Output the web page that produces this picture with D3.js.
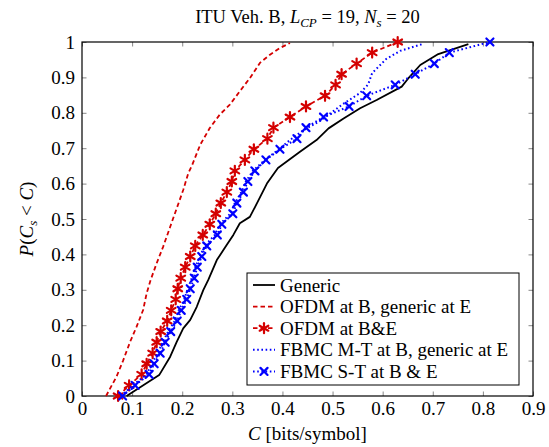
<!DOCTYPE html>
<html>
<head>
<meta charset="utf-8">
<script src="https://cdn.jsdelivr.net/npm/d3@7"></script>
<style>
  body { margin: 0; background: #fff; }
  svg { display: block; font-family: "Liberation Serif", "DejaVu Serif", serif; }
</style>
</head>
<body>
<svg id="chart"></svg>
<script>
// ticks
var xTicks = [0, 0.1, 0.2, 0.3, 0.4, 0.5, 0.6, 0.7, 0.8, 0.9];
var yTicks = [0, 0.1, 0.2, 0.3, 0.4, 0.5, 0.6, 0.7, 0.8, 0.9, 1];

// Generic
var genericC = [0.089, 0.154, 0.176, 0.189, 0.202, 0.216, 0.229, 0.242, 0.252, 0.269, 0.289, 0.302, 0.315, 0.335,
                0.349, 0.369, 0.391, 0.435, 0.468, 0.492, 0.522, 0.555, 0.588, 0.638, 0.651, 0.675, 0.711, 0.771];
var genericP = [0, 0.059, 0.111, 0.153, 0.191, 0.215, 0.252, 0.299, 0.328, 0.384, 0.427, 0.455, 0.488, 0.506,
                0.544, 0.600, 0.644, 0.690, 0.723, 0.756, 0.784, 0.813, 0.836, 0.874, 0.897, 0.935, 0.966, 0.994];

// OFDM at B, generic at E
var ofdmBC = [0.048, 0.069, 0.082, 0.096, 0.109, 0.122, 0.129, 0.137, 0.149, 0.162, 0.176, 0.189, 0.202,
              0.212, 0.220, 0.236, 0.255, 0.275, 0.295, 0.315, 0.335, 0.355, 0.375, 0.395, 0.415];
var ofdmBP = [0, 0.055, 0.100, 0.153, 0.196, 0.243, 0.290, 0.328, 0.375, 0.422, 0.478, 0.530, 0.582,
              0.629, 0.653, 0.710, 0.757, 0.795, 0.823, 0.861, 0.898, 0.941, 0.964, 0.983, 0.997];

// marked curves (OFDM at B&E, FBMC S-T at B & E) share the same P levels
var markedP = [0, 0.030, 0.061, 0.091, 0.121, 0.152, 0.182, 0.212, 0.242, 0.273, 0.303, 0.333, 0.364, 0.394,
               0.424, 0.455, 0.485, 0.515, 0.545, 0.576, 0.606, 0.636, 0.667, 0.697, 0.727, 0.758, 0.788,
               0.818, 0.848, 0.879, 0.909, 0.939, 0.970, 1];
var ofdmBEC = [0.072, 0.094, 0.119, 0.129, 0.141, 0.149, 0.157, 0.170, 0.178, 0.187, 0.191, 0.197, 0.206, 0.216,
               0.226, 0.241, 0.255, 0.267, 0.277, 0.289, 0.299, 0.305, 0.325, 0.343, 0.370, 0.382, 0.415,
               0.447, 0.485, 0.506, 0.518, 0.548, 0.579, 0.630];
var fbmcSTC = [0.081, 0.106, 0.134, 0.144, 0.156, 0.166, 0.177, 0.190, 0.198, 0.209, 0.216, 0.224, 0.230, 0.239,
               0.249, 0.270, 0.279, 0.301, 0.309, 0.322, 0.331, 0.345, 0.367, 0.395, 0.429, 0.447, 0.482,
               0.533, 0.568, 0.625, 0.665, 0.703, 0.733, 0.814];

// FBMC M-T at B, generic at E
var fbmcMTC = [0.077, 0.101, 0.129, 0.139, 0.151, 0.161, 0.172, 0.185, 0.193, 0.204, 0.211, 0.219, 0.226, 0.235,
               0.245, 0.265, 0.275, 0.296, 0.305, 0.318, 0.327, 0.341, 0.365, 0.393, 0.415, 0.441, 0.475,
               0.521, 0.555, 0.571, 0.579, 0.607, 0.635, 0.679];
var fbmcMTP = [0, 0.030, 0.061, 0.091, 0.121, 0.152, 0.182, 0.212, 0.242, 0.273, 0.303, 0.333, 0.364, 0.394,
               0.424, 0.455, 0.485, 0.515, 0.545, 0.576, 0.606, 0.636, 0.667, 0.697, 0.723, 0.750, 0.777,
               0.825, 0.856, 0.880, 0.912, 0.952, 0.975, 0.994];

var legendLabels = ["Generic", "OFDM at B, generic at E", "OFDM at B&E",
                    "FBMC M-T at B, generic at E", "FBMC S-T at B & E"];

var red = "#d40000", blue = "#0000ff";

function zip(c, p) {
  return c.map(function(v, i) { return { c: v, p: p[i] }; });
}

var series = [
  { data: zip(genericC, genericP), color: "#000", dash: null, mark: null },
  { data: zip(ofdmBC, ofdmBP), color: red, dash: "4.5,3", mark: null },
  { data: zip(ofdmBEC, markedP), color: red, dash: "4.5,3", mark: "asterisk" },
  { data: zip(fbmcMTC, fbmcMTP), color: blue, dash: "1.6,2.6", mark: null },
  { data: zip(fbmcSTC, markedP), color: blue, dash: "1.6,2.6", mark: "cross" }
];

var svgWidth = 549, svgHeight = 447;
var margin = { top: 42, right: 16, bottom: 51, left: 82 };
var width = svgWidth - margin.left - margin.right;
var height = svgHeight - margin.top - margin.bottom;

var svg = d3.select("#chart").attr("width", svgWidth).attr("height", svgHeight);
var g = svg.append("g").attr("transform", "translate(" + margin.left + "," + margin.top + ")");

var x = d3.scaleLinear().domain([0, 0.9]).range([0, width]);
var y = d3.scaleLinear().domain([0, 1]).range([height, 0]);
var fmt = d3.format("~g");

// axes with inward ticks on all four sides
var ax = g.append("g").attr("transform", "translate(0," + height + ")")
  .call(d3.axisBottom(x).tickValues(xTicks).tickFormat(fmt).tickSizeInner(-4.5).tickSizeOuter(0).tickPadding(6));
var ay = g.append("g")
  .call(d3.axisLeft(y).tickValues(yTicks).tickFormat(fmt).tickSizeInner(-4.5).tickSizeOuter(0).tickPadding(7));
var at = g.append("g")
  .call(d3.axisTop(x).tickValues(xTicks).tickFormat("").tickSizeInner(-4.5).tickSizeOuter(0));
var ar = g.append("g").attr("transform", "translate(" + width + ",0)")
  .call(d3.axisRight(y).tickValues(yTicks).tickFormat("").tickSizeInner(-4.5).tickSizeOuter(0));

[ax, ay, at, ar].forEach(function(a) {
  a.select(".domain").remove();
  a.selectAll(".tick line").attr("stroke", "#888").attr("stroke-width", 1);
  a.selectAll(".tick text").attr("fill", "#000").style("font-size", "19px")
    .style("font-family", "Liberation Serif, serif");
});

g.append("rect").attr("width", width).attr("height", height)
  .attr("fill", "none").attr("stroke", "#000").attr("stroke-width", 1.2);

var line = d3.line()
  .x(function(d) { return x(d.c); })
  .y(function(d) { return y(d.p); });

function drawMark(sel, type, color) {
  var r = 5;
  var segs = type === "asterisk" ? [90, 30, -30] : [45, -45];
  segs.forEach(function(a) {
    var rad = a * Math.PI / 180;
    sel.append("line")
      .attr("x1", -r * Math.cos(rad)).attr("y1", -r * Math.sin(rad))
      .attr("x2", r * Math.cos(rad)).attr("y2", r * Math.sin(rad))
      .attr("stroke", color).attr("stroke-width", 2.2).attr("stroke-linecap", "round");
  });
}

// curves
series.forEach(function(s) {
  g.append("path")
    .datum(s.data)
    .attr("fill", "none")
    .attr("stroke", s.color)
    .attr("stroke-width", s.dash === "1.6,2.6" ? 2 : 1.8)
    .attr("stroke-dasharray", s.dash)
    .attr("stroke-linejoin", "round")
    .attr("d", line);
  if (s.mark) {
    g.selectAll(null).data(s.data).enter().append("g")
      .attr("transform", function(d) { return "translate(" + x(d.c) + "," + y(d.p) + ")"; })
      .each(function() { drawMark(d3.select(this), s.mark, s.color); });
  }
});

// legend
var lg = svg.append("g").attr("transform", "translate(247,273)");
lg.append("rect").attr("width", 272).attr("height", 112)
  .attr("fill", "#fff").attr("stroke", "#000").attr("stroke-width", 1);
series.forEach(function(s, i) {
  var yy = 12 + i * 21.6;
  lg.append("line").attr("x1", 6).attr("x2", 28).attr("y1", yy).attr("y2", yy)
    .attr("stroke", s.color).attr("stroke-width", s.dash === "1.6,2.6" ? 2 : 1.8)
    .attr("stroke-dasharray", s.dash);
  if (s.mark) {
    drawMark(lg.append("g").attr("transform", "translate(17," + yy + ")"), s.mark, s.color);
  }
  lg.append("text").attr("x", 33).attr("y", yy + 6.5)
    .style("font-size", "19px").text(legendLabels[i]);
});

// title
var title = svg.append("text").attr("x", margin.left + width / 2).attr("y", 23)
  .attr("text-anchor", "middle").style("font-size", "18.5px");
title.append("tspan").text("ITU Veh. B, ");
title.append("tspan").style("font-style", "italic").text("L");
title.append("tspan").style("font-style", "italic").style("font-size", "13px").attr("dy", 4).text("CP");
title.append("tspan").attr("dy", -4).text(" = 19, ");
title.append("tspan").style("font-style", "italic").text("N");
title.append("tspan").style("font-style", "italic").style("font-size", "13px").attr("dy", 4).text("s");
title.append("tspan").attr("dy", -4).text(" = 20");

// x-axis title
var xt = svg.append("text").attr("x", margin.left + width / 2).attr("y", 440)
  .attr("text-anchor", "middle").style("font-size", "19px");
xt.append("tspan").style("font-style", "italic").text("C");
xt.append("tspan").text(" [bits/symbol]");

// y-axis title
var yt = svg.append("text").attr("transform", "translate(33," + (margin.top + height / 2) + ") rotate(-90)")
  .attr("text-anchor", "middle").style("font-size", "19px");
yt.append("tspan").style("font-style", "italic").text("P");
yt.append("tspan").text("(");
yt.append("tspan").style("font-style", "italic").text("C");
yt.append("tspan").style("font-style", "italic").style("font-size", "13px").attr("dy", 4).text("s");
yt.append("tspan").attr("dy", -4).text(" < ");
yt.append("tspan").style("font-style", "italic").text("C");
yt.append("tspan").text(")");
</script>
</body>
</html>
